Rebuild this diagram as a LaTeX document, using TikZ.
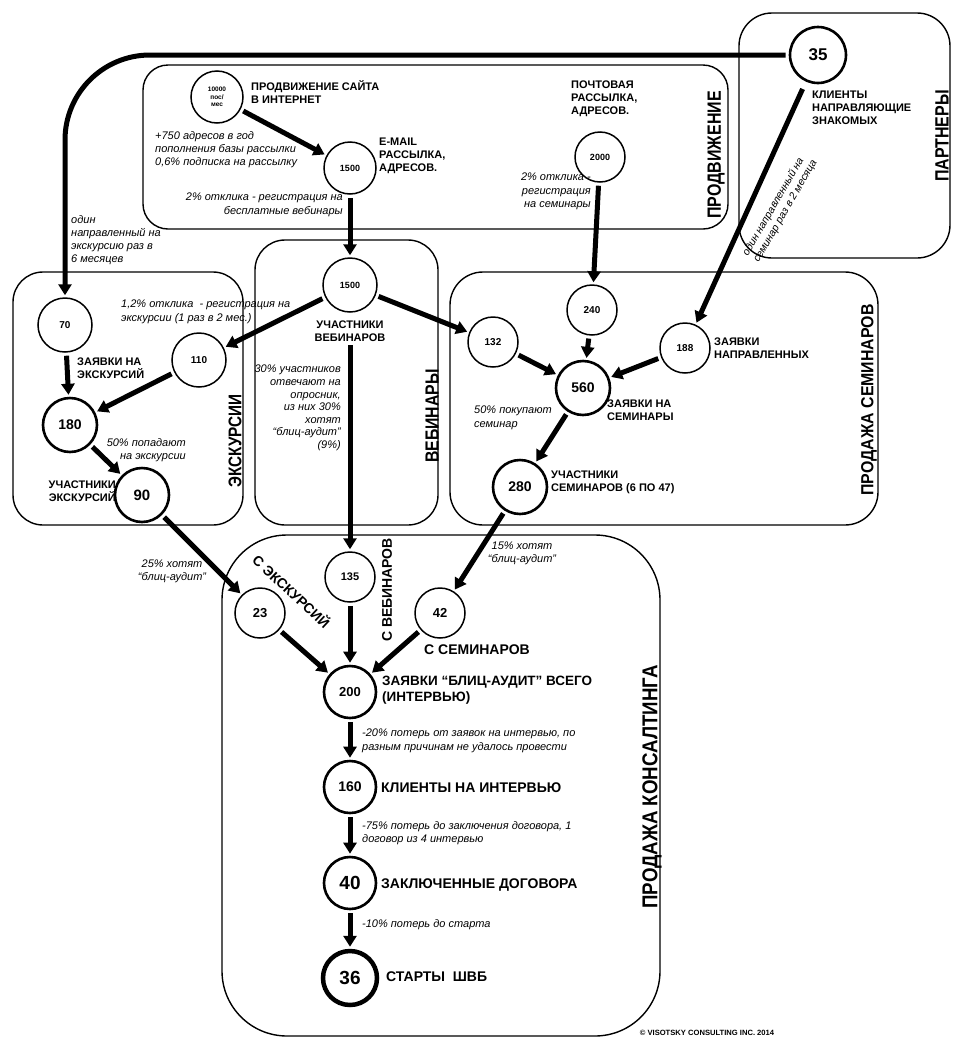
\documentclass[tikz,border=0pt]{standalone}
\usepackage{fontspec}
\usepackage{graphicx}
\setmainfont{Liberation Sans}
\usetikzlibrary{arrows.meta}
\newcommand\fsz[2]{\fontsize{#1}{#2}\selectfont}
\newcommand\tallt[2]{\scalebox{1}[#1]{#2}}
\begin{document}
\begin{tikzpicture}[x=1pt,y=-1pt,
 num/.style={circle,draw,line width=1.5pt,inner sep=0pt,align=center},
 bnum/.style={num,line width=2.6pt},
 lbl/.style={inner sep=0pt,align=left,font=\bfseries\fsz{11}{13}},
 note/.style={inner sep=0pt,align=left,font=\itshape\fsz{11}{13.2}},
 ttl/.style={inner sep=0pt,rotate=90,font=\bfseries\fsz{16}{18}},
 arr/.style={line width=5pt,-{Triangle[length=11pt,width=13pt]},shorten <=3pt,shorten >=2pt},
 grp/.style={line width=1.4pt,rounded corners=#1},
]
\useasboundingbox (0,0) rectangle (953,1039);
% group boxes
\draw[grp=25pt] (143,65) rectangle (728,229);
\draw[grp=33pt] (739,13) rectangle (950,258);
\draw[grp=30pt] (13,272) rectangle (243,525);
\draw[grp=30pt] (255,240) rectangle (438,525);
\draw[grp=33pt] (450,272) rectangle (878,525);
\draw[grp=65pt] (222,535) rectangle (660,1036);
% box titles
\node[ttl] (tpromo) at (716,155) {\tallt{1.2}{ПРОДВИЖЕНИЕ}};
\node[ttl] (tpart) at (942,136) {\tallt{1.2}{ПАРТНЕРЫ}};
\node[ttl,font=\bfseries\fsz{15.3}{17}] (texc) at (235,441) {\tallt{1.2}{ЭКСКУРСИИ}};
\node[ttl,font=\bfseries\fsz{15.8}{17}] (twebt) at (432,416) {\tallt{1.2}{ВЕБИНАРЫ}};
\node[ttl,font=\bfseries\fsz{15.9}{17}] (tsemt) at (869,400) {\tallt{1.1}{ПРОДАЖА СЕМИНАРОВ}};
\node[ttl,font=\bfseries\fsz{18.7}{20}] (tcons) at (652,787) {\tallt{1.15}{ПРОДАЖА КОНСАЛТИНГА}};
% circles
\node[num,minimum size=52pt,font=\bfseries\fsz{6.5}{7.5}] (c10000) at (217,97) {10000\\пос/\\мес};
\node[num,minimum size=52pt,font=\bfseries\fsz{9}{10}] (cemail) at (350,168) {1500};
\node[num,minimum size=50pt,font=\bfseries\fsz{9}{10}] (c2000) at (600,157) {2000};
\node[bnum,minimum size=56pt,font=\bfseries\fsz{17}{18}] (c35) at (818,55) {35};
\node[num,minimum size=54pt,font=\bfseries\fsz{9}{10}] (cweb) at (350,285) {1500};
\node[num,minimum size=54pt,font=\bfseries\fsz{10}{11}] (c70) at (65,325) {70};
\node[num,minimum size=54pt,font=\bfseries\fsz{10}{11}] (c110) at (199,360) {110};
\node[bnum,minimum size=54pt,font=\bfseries\fsz{14}{15}] (c180) at (70,425) {180};
\node[bnum,minimum size=54pt,font=\bfseries\fsz{15}{16}] (c90) at (142,495) {90};
\node[num,minimum size=50pt,font=\bfseries\fsz{10}{11}] (c240) at (592,310) {240};
\node[num,minimum size=50pt,font=\bfseries\fsz{10}{11}] (c132) at (493,342) {132};
\node[num,minimum size=50pt,font=\bfseries\fsz{10}{11}] (c188) at (685,348) {188};
\node[bnum,minimum size=54pt,font=\bfseries\fsz{14}{15}] (c560) at (583,388) {560};
\node[bnum,minimum size=54pt,font=\bfseries\fsz{14}{15}] (c280) at (520,487) {280};
\node[num,minimum size=50pt,font=\bfseries\fsz{11}{12}] (c135) at (350,577) {135};
\node[num,minimum size=50pt,font=\bfseries\fsz{13}{14}] (c23) at (260,613) {23};
\node[num,minimum size=50pt,font=\bfseries\fsz{13}{14}] (c42) at (440,613) {42};
\node[bnum,minimum size=52pt,font=\bfseries\fsz{13}{14}] (c200) at (350,692) {200};
\node[bnum,minimum size=52pt,font=\bfseries\fsz{14}{15}] (c160) at (350,787) {160};
\node[bnum,minimum size=52pt,font=\bfseries\fsz{19}{20}] (c40) at (350,883) {40};
\node[num,line width=4.5pt,minimum size=54pt,font=\bfseries\fsz{19}{20}] (c36) at (350,978) {36};
% labels
\node[lbl,anchor=north west] (t10000) at (251,80) {ПРОДВИЖЕНИЕ САЙТА\\В ИНТЕРНЕТ};
\node[note,anchor=north west] (tadd) at (155,131) {+750 адресов в год\\пополнения базы рассылки\\0,6\% подписка на рассылку};
\node[lbl,anchor=north west] (temail) at (379,138) {E-MAIL\\РАССЫЛКА,\\АДРЕСОВ.};
\node[note,anchor=north east,align=right] (twebreg) at (343,193) {2\% отклика - регистрация на\\бесплатные вебинары};
\node[lbl,anchor=north west] (tpost) at (571,81) {ПОЧТОВАЯ\\РАССЫЛКА,\\АДРЕСОВ.};
\node[note,anchor=north east,align=right] (tpostreg) at (591,173) {2\% отклика -\\регистрация\\на семинары};
\node[lbl,anchor=north west] (tclients) at (812,91) {КЛИЕНТЫ\\НАПРАВЛЯЮЩИЕ\\ЗНАКОМЫХ};
\node[note,anchor=north west] (tone) at (71,215) {один\\направленный на\\экскурсию раз в\\6 месяцев};
\node[note,rotate=60,align=left,font=\itshape\fsz{10.5}{12.5}] (tsem35) at (780,208) {один направленный на\\семинар раз в 2 месяца};
\node[note,anchor=north west] (t12) at (121,300) {1,2\% отклика~ - регистрация на\\экскурсии (1 раз в 2 мес.)};
\node[lbl,anchor=north west] (tzexc) at (77,358) {ЗАЯВКИ НА\\ЭКСКУРСИЙ};
\node[note,anchor=north east,align=right] (t50) at (186,438) {50\% попадают\\на экскурсии};
\node[lbl,anchor=north east,align=right] (tuexc) at (116,481) {УЧАСТНИКИ\\ЭКСКУРСИЙ};
\node[lbl,anchor=north,align=center] (tweb) at (350,321) {УЧАСТНИКИ\\ВЕБИНАРОВ};
\node[note,anchor=north east,align=right,font=\itshape\fsz{11}{12.6}] (t30) at (341,365) {30\% участников\\отвечают на\\опросник,\\из них 30\%\\хотят\\“блиц-аудит”\\(9\%)};
\node[lbl,anchor=north west] (tz188) at (714,338) {ЗАЯВКИ\\НАПРАВЛЕННЫХ};
\node[lbl,anchor=north west] (tzsem) at (607,400) {ЗАЯВКИ НА\\СЕМИНАРЫ};
\node[note,anchor=north west] (t50s) at (474,406) {50\% покупают\\семинар};
\node[lbl,anchor=north west] (tusem) at (551,471) {УЧАСТНИКИ\\СЕМИНАРОВ (6 ПО 47)};
\node[note,align=center] (t25) at (172,571) {25\% хотят\\“блиц-аудит”};
\node[note,align=center] (t15) at (522,553) {15\% хотят\\“блиц-аудит”};
\node[lbl,rotate=-43,font=\bfseries\fsz{14}{15}] (tsexc) at (292,591) {С ЭКСКУРСИЙ};
\node[lbl,rotate=90,font=\bfseries\fsz{14}{15}] (tsweb) at (387,590) {С ВЕБИНАРОВ};
\node[lbl,anchor=west,font=\bfseries\fsz{14}{15}] (tssem) at (424,650) {С СЕМИНАРОВ};
\node[lbl,anchor=north west,font=\bfseries\fsz{13.5}{15.5}] (tz200) at (382,676) {ЗАЯВКИ “БЛИЦ-АУДИТ” ВСЕГО\\(ИНТЕРВЬЮ)};
\node[note,anchor=north west] (t20) at (362,729) {-20\% потерь от заявок на интервью, по\\разным причинам не удалось провести};
\node[lbl,anchor=west,font=\bfseries\fsz{14}{15}] (t160) at (381,788) {КЛИЕНТЫ НА ИНТЕРВЬЮ};
\node[note,anchor=north west] (t75) at (362,821) {-75\% потерь до заключения договора, 1\\договор из 4 интервью};
\node[lbl,anchor=west,font=\bfseries\fsz{14}{15}] (t40) at (381,885) {ЗАКЛЮЧЕННЫЕ ДОГОВОРА};
\node[note,anchor=west] (t10) at (362,925) {-10\% потерь до старта};
\node[lbl,anchor=west,font=\bfseries\fsz{14}{15}] (t36) at (386,977) {СТАРТЫ~~ШВБ};
\node[inner sep=0pt,font=\bfseries\fsz{7.6}{8}] (tcopy) at (707,1033) {© VISOTSKY CONSULTING INC. 2014};
% connectors
\draw[arr,rounded corners=85pt] (c35.west) -| (c70.north);
\draw[arr] (c10000) -- (cemail);
\draw[arr] (cemail) -- (cweb);
\draw[arr] (c2000) -- (c240);
\draw[arr,shorten <=8pt] (c35) -- (c188);
\draw[arr] (cweb) -- (c110);
\draw[arr] (cweb) -- (c132);
\draw[arr] (tweb.south) -- (c135.north);
\draw[arr] (c70) -- (c180);
\draw[arr] (c110) -- (c180);
\draw[arr] (c180) -- (c90);
\draw[arr] (c240) -- (c560);
\draw[arr] (c132) -- (c560);
\draw[arr] (c188) -- (c560);
\draw[arr] (c560) -- (c280);
\draw[arr] (c90) -- (c23);
\draw[arr] (c280) -- (c42);
\draw[arr] (c135) -- (c200);
\draw[arr] (c23) -- (c200);
\draw[arr] (c42) -- (c200);
\draw[arr] (c200) -- (c160);
\draw[arr] (c160) -- (c40);
\draw[arr] (c40) -- (c36);
\end{tikzpicture}
\end{document}
